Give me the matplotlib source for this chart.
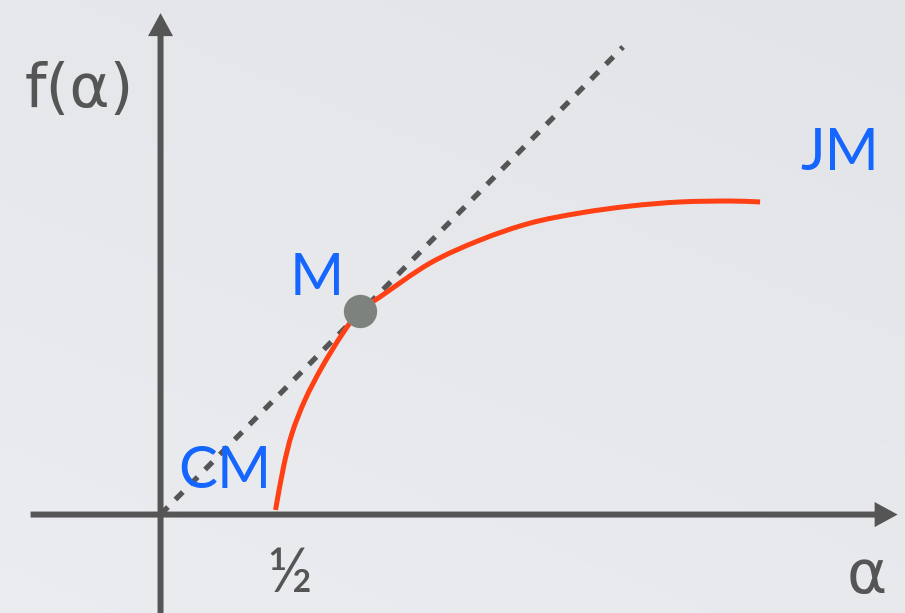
import numpy as np
import matplotlib
matplotlib.use("Agg")
import matplotlib.pyplot as plt
from matplotlib.patches import FancyArrow, PathPatch
from matplotlib.path import Path

# Multifractal spectrum f(alpha): sampled points of the curve
alpha = [0.50, 0.535, 0.572, 0.628, 0.702, 0.793, 0.867, 0.954, 1.172, 1.389,
         1.607, 1.824, 2.041, 2.259, 2.476, 2.607]
f_alpha = [0.02, 0.208, 0.354, 0.498, 0.641, 0.789, 0.885, 0.946, 1.093, 1.193,
           1.267, 1.311, 1.341, 1.359, 1.363, 1.359]

# Tangent line f = alpha and the touching point M
diag_alpha = [0.0, 2.011]
diag_f = [0.0, 2.033]
m_alpha, m_f = 0.867, 0.885

labels = {"CM": (0.076, 0.115), "M": (0.563, 0.954), "JM": (2.780, 1.498)}

AX = "#555555"
BLUE = "#1565ff"
RED = "#ff3f14"


def smooth_path(xs, ys):
    """Catmull-Rom spline through the points, expressed as cubic Bezier segments."""
    p = np.column_stack([xs, ys])
    pad = np.vstack([2 * p[0] - p[1], p, 2 * p[-1] - p[-2]])
    verts = [p[0]]
    codes = [Path.MOVETO]
    for i in range(1, len(pad) - 2):
        p0, p1, p2, p3 = pad[i - 1], pad[i], pad[i + 1], pad[i + 2]
        verts += [p1 + (p2 - p0) / 6, p2 - (p3 - p1) / 6, p2]
        codes += [Path.CURVE4] * 3
    return Path(verts, codes)


fig = plt.figure(figsize=(9.05, 6.13), dpi=100)
ax = fig.add_axes([0, 0, 1, 1])
xlim = (-0.698, 3.237)
ylim = (-0.428, 2.237)
ax.set_xlim(*xlim)
ax.set_ylim(*ylim)
ax.axis("off")

# soft grey backdrop
gy, gx = np.mgrid[0:1:200j, 0:1:300j]
bg = 0.905 + 0.02 * gy - 0.012 * gx
rgb = np.dstack([bg - 0.004, bg + 0.002, bg + 0.018])
ax.imshow(np.clip(rgb, 0, 1), extent=[xlim[0], xlim[1], ylim[0], ylim[1]],
          origin="upper", aspect="auto", zorder=0)

# axes with arrowheads
w = 6 / 230
hw = 25 / 230
hl = 23 / 230
ax.add_patch(FancyArrow(-0.565, 0.0, 3.205 - (-0.565), 0.0, width=w, head_width=hw,
                        head_length=hl, length_includes_head=True, color=AX,
                        lw=0, zorder=2))
ax.add_patch(FancyArrow(0.0, ylim[0], 0.0, 2.18 - ylim[0], width=w, head_width=hw,
                        head_length=hl, length_includes_head=True, color=AX,
                        lw=0, zorder=2))

ax.plot(diag_alpha, diag_f, color=AX, lw=3.8, linestyle=(0, (2.0, 2.0)),
        solid_capstyle="butt", dash_capstyle="butt", zorder=3)
ax.add_patch(PathPatch(smooth_path(alpha, f_alpha), facecolor="none", edgecolor=RED,
                       lw=3.6, capstyle="butt", zorder=4))
ax.plot([m_alpha], [m_f], "o", color="#7d827f", markersize=24, mec="none", zorder=5)

font = "Lato"
for name, (x, y) in labels.items():
    ax.text(x, y, name, color=BLUE, fontsize=42, family=font,
            ha="left", va="baseline", zorder=6)

ax.text(-0.589, 1.772, "f(α)", color=AX, fontsize=44, family="DejaVu Sans",
        ha="left", va="baseline", zorder=6)
ax.text(2.985, -0.341, "α", color=AX, fontsize=44, family="DejaVu Sans",
        ha="left", va="baseline", zorder=6)
ax.text(0.463, -0.337, "½", color=AX, fontsize=44, family=font,
        ha="left", va="baseline", zorder=6)

fig.savefig("out.png", dpi=100)
